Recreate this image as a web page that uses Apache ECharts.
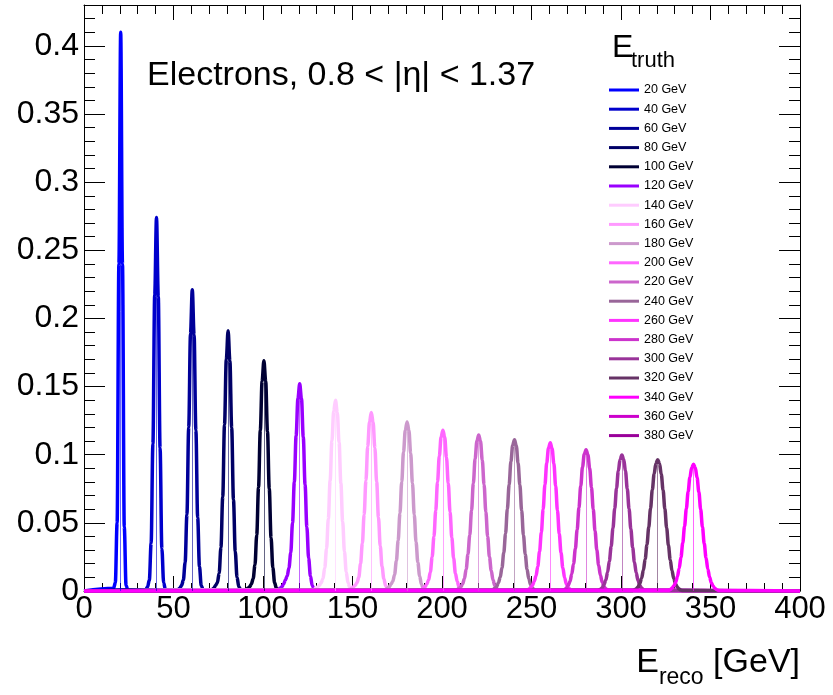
<!DOCTYPE html>
<html>
<head>
<meta charset="utf-8">
<script src="https://cdn.jsdelivr.net/npm/echarts@6/dist/echarts.min.js"></script>
<style>
  html, body { margin: 0; padding: 0; background: #fff; }
  #chart { width: 833px; height: 695px; }
</style>
</head>
<body>
<div id="chart"></div>
<script>
// truth energies (GeV) and their line colours
const energies = [20, 40, 60, 80, 100, 120, 140, 160, 180, 200, 220, 240, 260, 280, 300, 320, 340, 360, 380]
const colors = ['#0000ff', '#0000cc', '#000099', '#000066', '#000033', '#9900ff', '#ffccff', '#ff99ff', '#cc99cc',
  '#ff66ff', '#cc66cc', '#996699', '#ff33ff', '#cc33cc', '#993399', '#663366', '#ff00ff', '#cc00cc', '#990099']

// lower edge (GeV) of the first 1 GeV bin listed for each histogram
const binStart = [16, 34, 52, 71, 90, 108, 128, 148, 168, 188, 208, 227, 247, 266, 286, 306, 326, null, null]

// normalised bin contents
const h20 = [0.002, 0.006, 0.05, 0.24, 0.41, 0.24, 0.047, 0.004, 0.0005]
const h40 = [0.001, 0.003, 0.008, 0.035, 0.108, 0.217, 0.274, 0.216, 0.105, 0.031, 0.006, 0.001]
const h60 = [0.001, 0.002, 0.004, 0.008, 0.021, 0.056, 0.12, 0.189, 0.221, 0.188, 0.118, 0.054, 0.018, 0.004, 0.001]
const h80 = [0.001, 0.002, 0.004, 0.006, 0.013, 0.032, 0.069, 0.122, 0.17, 0.191, 0.169, 0.12, 0.067, 0.029, 0.01, 0.003, 0.001]
const h100 = [0.001, 0.002, 0.003, 0.005, 0.009, 0.019, 0.041, 0.076, 0.118, 0.154, 0.169, 0.154, 0.117, 0.075, 0.039, 0.017, 0.006, 0.002, 0.0005]
const h120 = [0.001, 0.002, 0.003, 0.005, 0.008, 0.011, 0.017, 0.028, 0.05, 0.08, 0.114, 0.141, 0.152, 0.141, 0.113, 0.078, 0.047, 0.024, 0.011, 0.004, 0.0015, 0.0004]
const h140 = [0.001, 0.002, 0.003, 0.004, 0.006, 0.009, 0.017, 0.031, 0.053, 0.081, 0.11, 0.132, 0.14, 0.131, 0.109, 0.079, 0.051, 0.029, 0.014, 0.006, 0.0025, 0.0008]
const h160 = [0.001, 0.002, 0.003, 0.004, 0.006, 0.01, 0.02, 0.035, 0.056, 0.081, 0.106, 0.124, 0.131, 0.124, 0.105, 0.08, 0.054, 0.033, 0.018, 0.009, 0.004, 0.0015, 0.0005]
const h180 = [0.001, 0.002, 0.003, 0.005, 0.007, 0.012, 0.022, 0.037, 0.057, 0.08, 0.102, 0.118, 0.124, 0.118, 0.101, 0.079, 0.056, 0.036, 0.021, 0.011, 0.005, 0.002, 0.001]
const h200 = [0.001, 0.002, 0.003, 0.005, 0.008, 0.014, 0.025, 0.04, 0.059, 0.08, 0.099, 0.113, 0.118, 0.113, 0.098, 0.079, 0.058, 0.039, 0.024, 0.013, 0.007, 0.003, 0.0015, 0.0005]
const h220 = [0.001, 0.002, 0.003, 0.005, 0.009, 0.016, 0.027, 0.041, 0.059, 0.079, 0.097, 0.11, 0.1145, 0.11, 0.096, 0.078, 0.058, 0.04, 0.025, 0.015, 0.008, 0.004, 0.0017, 0.0007]
const h240 = [0.0005, 0.001, 0.002, 0.003, 0.006, 0.01, 0.017, 0.028, 0.042, 0.06, 0.078, 0.095, 0.107, 0.111, 0.1065, 0.094, 0.078, 0.059, 0.041, 0.027, 0.016, 0.009, 0.0046, 0.0022, 0.001, 0.0004]
const h260 = [0.0006, 0.0012, 0.0025, 0.004, 0.007, 0.011, 0.018, 0.029, 0.043, 0.06, 0.078, 0.094, 0.105, 0.1087, 0.1045, 0.0935, 0.077, 0.059, 0.042, 0.028, 0.017, 0.0098, 0.005, 0.0025, 0.0012, 0.0005]
const h280 = [0.0003, 0.0006, 0.001, 0.002, 0.004, 0.007, 0.0125, 0.02, 0.031, 0.045, 0.061, 0.077, 0.091, 0.1005, 0.1037, 0.1, 0.09, 0.076, 0.06, 0.044, 0.03, 0.019, 0.0115, 0.0064, 0.0033, 0.0016, 0.0007, 0.0003]
const h300 = [0.0003, 0.0006, 0.0012, 0.0024, 0.0046, 0.008, 0.0137, 0.022, 0.0327, 0.046, 0.0606, 0.0754, 0.088, 0.0967, 0.0998, 0.0966, 0.088, 0.075, 0.0603, 0.0455, 0.032, 0.0213, 0.0133, 0.0078, 0.0043, 0.0022, 0.001, 0.0005]
const h320 = [0.0004, 0.0008, 0.0015, 0.003, 0.0055, 0.0094, 0.0152, 0.0234, 0.034, 0.0467, 0.0606, 0.0743, 0.0858, 0.0936, 0.0964, 0.0935, 0.0856, 0.0741, 0.0603, 0.0463, 0.0335, 0.0229, 0.0148, 0.009, 0.0051, 0.0027, 0.0014, 0.0007, 0.0003]
const h340 = [0.0005, 0.001, 0.002, 0.0036, 0.0062, 0.0104, 0.0166, 0.0248, 0.0352, 0.0474, 0.0603, 0.0729, 0.0835, 0.0905, 0.093, 0.0904, 0.0832, 0.0726, 0.06, 0.047, 0.0348, 0.0244, 0.0162, 0.0101, 0.006, 0.0034, 0.0018, 0.0009, 0.0004]
const h360 = []
const h380 = []

const hists = [h20, h40, h60, h80, h100, h120, h140, h160, h180, h200, h220, h240, h260, h280, h300, h320, h340, h360, h380]

const xMin = 0
const xMax = 400
const yMax = 0.43

const sans = "'Liberation Sans', Arial, sans-serif"

const chart = echarts.init(document.getElementById('chart'), null, { renderer : 'canvas' })

function getSeries() {
  const series = []
  hists.forEach((vals, i) => {
    const data = []
    let peakX = 0
    let peakY = 0
    if (vals.length) {
      data.push([xMin, 0])
      vals.forEach((v, j) => {
        const x = binStart[i] + j + 0.5
        data.push([x, v])
        if (v > peakY) { peakY = v; peakX = x }
      })
      data.push([xMax, 0])
    }
    series.push({
      name : energies[i] + ' GeV',
      type : 'line',
      data : data,
      color : colors[i],
      showSymbol : false,
      symbol : 'none',
      clip : false,
      smooth : 0.35,
      smoothMonotone : 'x',
      lineStyle : { width : 3.5, color : colors[i] },
      markLine : vals.length ? {
        silent : true,
        symbol : 'none',
        label : { show : false },
        lineStyle : { color : colors[i], width : 1, type : 'solid', opacity : 0.6 },
        data : [[{ coord : [peakX, 0] }, { coord : [peakX, peakY] }]]
      } : undefined
    })
  })
  return series
}

function yAxisDef(position, interval, tickLen, labels) {
  return {
    type : 'value',
    position : position,
    min : 0,
    max : yMax,
    interval : interval,
    axisLine : { show : true, lineStyle : { color : '#000', width : 1 } },
    axisTick : { show : true, inside : true, length : tickLen, lineStyle : { color : '#000', width : 1 } },
    axisLabel : labels ? {
      show : true, margin : 5, fontSize : 32, fontFamily : sans, color : '#000', showMaxLabel : false
    } : { show : false },
    splitLine : { show : false }
  }
}

function xAxisDef(position, tickLen, minorLen, labels) {
  return {
    type : 'value',
    position : position,
    min : xMin,
    max : xMax,
    interval : 50,
    axisLine : { show : true, onZero : false, lineStyle : { color : '#000', width : 1 } },
    axisTick : { show : true, inside : true, length : tickLen, lineStyle : { color : '#000', width : 1 } },
    minorTick : { show : true, splitNumber : 5, length : minorLen, lineStyle : { color : '#000', width : 1 } },
    axisLabel : labels ? {
      show : true, margin : 3, fontSize : 31, fontFamily : sans, color : '#000'
    } : { show : false },
    splitLine : { show : false }
  }
}

chart.setOption({
  backgroundColor : '#ffffff',
  animation : false,
  grid : { left : 84, right : 33, top : 5, bottom : 104, containLabel : false },
  legend : {
    orient : 'vertical',
    left : 604,
    top : 78,
    icon : 'rect',
    itemWidth : 30,
    itemHeight : 3,
    itemGap : 5.2,
    textStyle : { fontSize : 12.5, lineHeight : 14, fontFamily : sans, color : '#000' },
    data : energies.map(e => e + ' GeV')
  },
  xAxis : [
    xAxisDef('bottom', 15, 8, true),
    xAxisDef('top', 15, 9, false)
  ],
  yAxis : [
    yAxisDef('left', 0.05, 21, true),
    Object.assign(yAxisDef('left', 0.01, 11, false), { axisLine : { show : false } }),
    yAxisDef('right', 0.05, 21, false),
    Object.assign(yAxisDef('right', 0.01, 11, false), { axisLine : { show : false } })
  ],
  graphic : [
    {
      type : 'text', left : 147, top : 59,
      style : { text : 'Electrons, 0.8 < |η| < 1.37', fontSize : 34, fontFamily : sans, fill : '#000' }
    },
    {
      type : 'text', left : 612, top : 32,
      style : { text : 'E', fontSize : 32, fontFamily : sans, fill : '#000' }
    },
    {
      type : 'text', left : 631, top : 50,
      style : { text : 'truth', fontSize : 22, fontFamily : sans, fill : '#000' }
    },
    {
      type : 'text', right : 33, top : 646,
      style : {
        text : '{e|E}{s|reco}{t| [GeV]}',
        fill : '#000',
        rich : {
          e : { fontSize : 34, fontFamily : sans, verticalAlign : 'bottom', padding : [0, 0, 9, 0] },
          s : { fontSize : 23, fontFamily : sans, verticalAlign : 'bottom' },
          t : { fontSize : 34, fontFamily : sans, verticalAlign : 'bottom', padding : [0, 0, 9, 0] }
        }
      }
    }
  ],
  series : getSeries()
})
</script>
</body>
</html>
